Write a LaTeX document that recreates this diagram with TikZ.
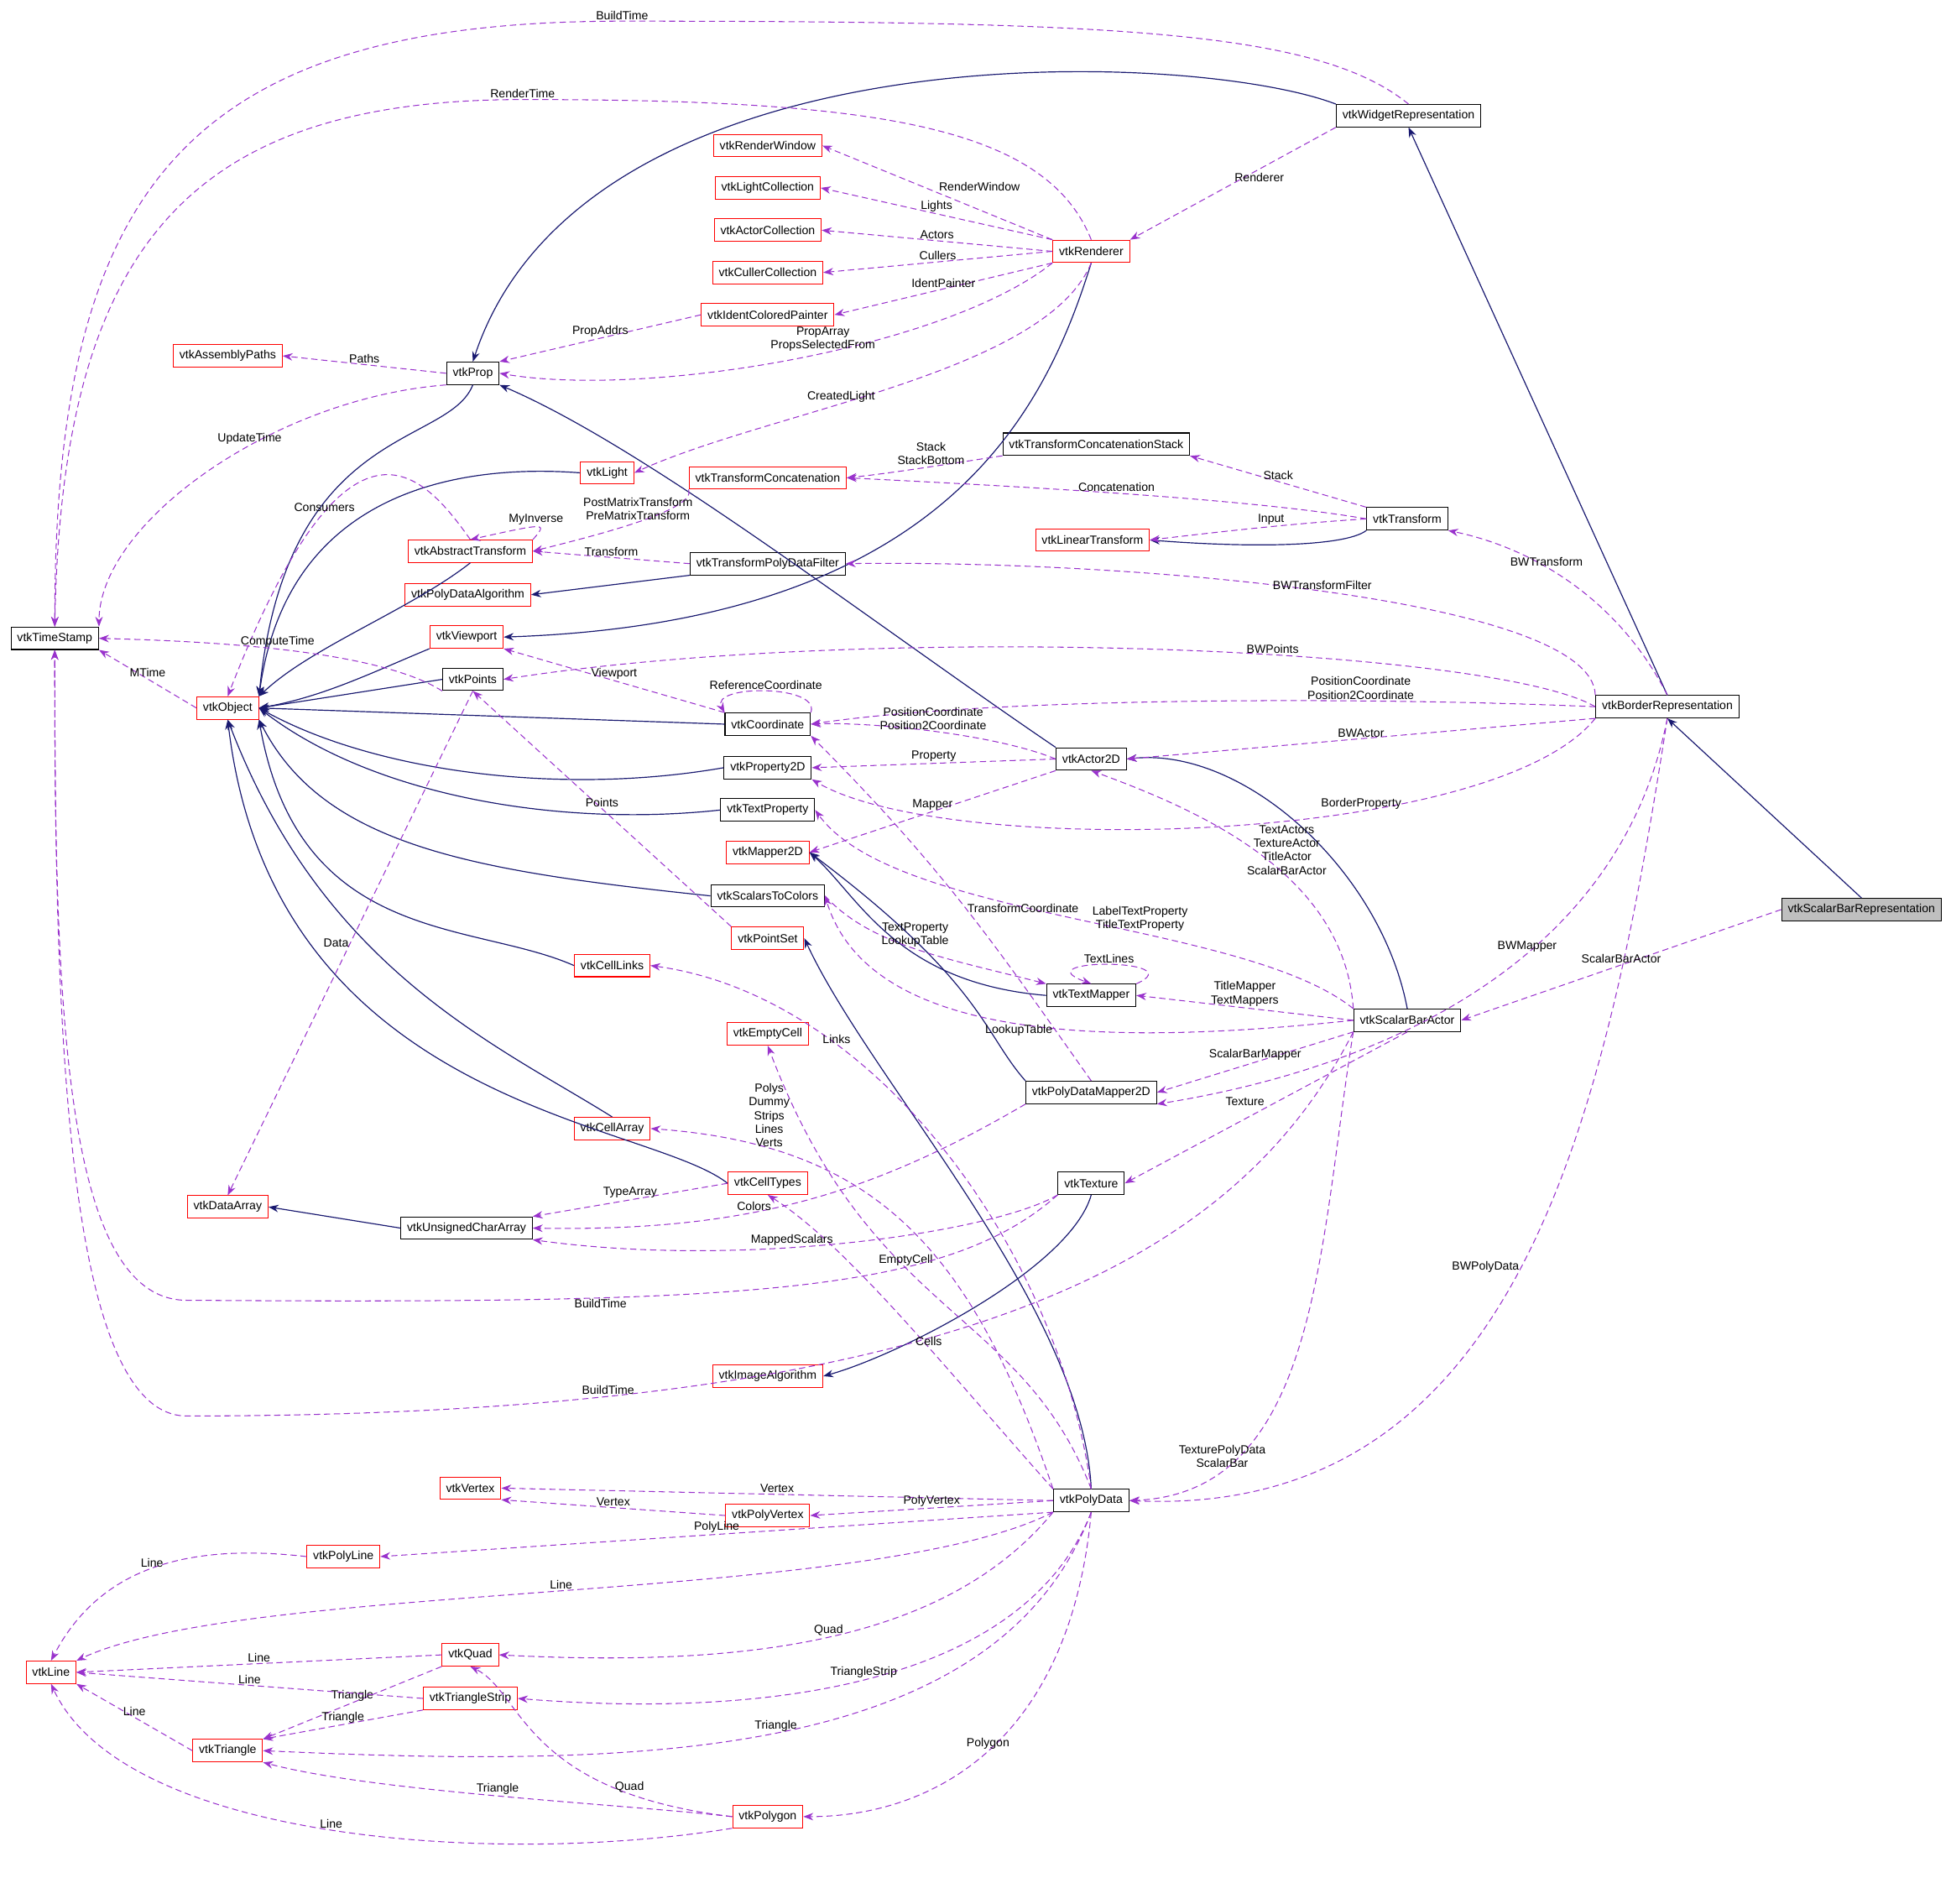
\documentclass[tikz,border=0pt]{standalone}
\usepackage{fontspec}
\setmainfont{Liberation Sans}
\usetikzlibrary{arrows.meta}
\definecolor{midnight}{RGB}{25,25,112}
\definecolor{orch}{RGB}{153,50,204}
\newcommand{\fs}{\fontsize{9.5}{11}\selectfont}
\tikzset{
 cls/.style={draw=black, line width=0.7pt, font=\fs, inner xsep=5pt, inner ysep=0pt, minimum height=18pt, fill=white},
 rcls/.style={cls, draw=red},
 inh/.style={draw=midnight, line width=0.8pt, -{Stealth[length=8pt,width=6pt]}},
 dep/.style={draw=orch, line width=0.7pt, dash pattern=on 5pt off 3pt, -{Stealth[length=8pt,width=6pt]}},
 lbl/.style={font=\fs, align=center, inner sep=1pt, text=black}
}
\begin{document}
\begin{tikzpicture}[x=1pt,y=-1pt]
\useasboundingbox (0,0) rectangle (1568,1530);
% nodes
\node[cls] (WR) at (1132,93) {vtkWidgetRepresentation};
\node[rcls] (RW) at (617,117) {vtkRenderWindow};
\node[rcls] (LC) at (617,151) {vtkLightCollection};
\node[rcls] (AC) at (617,185) {vtkActorCollection};
\node[rcls] (CC) at (617,219) {vtkCullerCollection};
\node[rcls] (Ren) at (877,202) {vtkRenderer};
\node[rcls] (ICP) at (617,253) {vtkIdentColoredPainter};
\node[rcls] (AP) at (183,286) {vtkAssemblyPaths};
\node[cls] (Prop) at (380,300) {vtkProp};
\node[cls] (TCS) at (881,357) {vtkTransformConcatenationStack};
\node[rcls] (Light) at (488,380) {vtkLight};
\node[rcls] (TC) at (617,384) {vtkTransformConcatenation};
\node[cls] (Tr) at (1131,417) {vtkTransform};
\node[rcls] (LT) at (878,434) {vtkLinearTransform};
\node[rcls] (AT) at (378,443) {vtkAbstractTransform};
\node[cls] (TPDF) at (617,453) {vtkTransformPolyDataFilter};
\node[rcls] (PDA) at (376,478) {vtkPolyDataAlgorithm};
\node[cls] (TS) at (44,513) {vtkTimeStamp};
\node[rcls] (VP) at (375,512) {vtkViewport};
\node[cls] (Pts) at (380,546) {vtkPoints};
\node[rcls] (Obj) at (183,569) {vtkObject};
\node[cls] (Coord) at (617,582) {vtkCoordinate};
\node[cls] (BR) at (1340,568) {vtkBorderRepresentation};
\node[cls] (A2D) at (877,610) {vtkActor2D};
\node[cls] (P2D) at (617,617) {vtkProperty2D};
\node[cls] (TP) at (617,651) {vtkTextProperty};
\node[rcls] (M2D) at (617,685) {vtkMapper2D};
\node[cls] (STC) at (617,720) {vtkScalarsToColors};
\node[cls, fill=black!25] (SBR) at (1496,731) {vtkScalarBarRepresentation};
\node[rcls] (PS) at (617,754) {vtkPointSet};
\node[rcls] (CL) at (492,776) {vtkCellLinks};
\node[cls] (TM) at (877,800) {vtkTextMapper};
\node[cls] (SBA) at (1131,820) {vtkScalarBarActor};
\node[rcls] (EC) at (617,831) {vtkEmptyCell};
\node[cls] (PDM) at (877,878) {vtkPolyDataMapper2D};
\node[rcls] (CA) at (492,907) {vtkCellArray};
\node[cls] (Tex) at (877,951) {vtkTexture};
\node[rcls] (CT) at (617,951) {vtkCellTypes};
\node[rcls] (DA) at (183,970) {vtkDataArray};
\node[cls] (UCA) at (375,987) {vtkUnsignedCharArray};
\node[rcls] (IA) at (617,1106) {vtkImageAlgorithm};
\node[cls] (PD) at (877,1206) {vtkPolyData};
\node[rcls] (Vx) at (378,1196) {vtkVertex};
\node[rcls] (PVx) at (617,1218) {vtkPolyVertex};
\node[rcls] (PL) at (276,1251) {vtkPolyLine};
\node[rcls] (Line) at (41,1344) {vtkLine};
\node[rcls] (Quad) at (378,1330) {vtkQuad};
\node[rcls] (TSt) at (378,1365) {vtkTriangleStrip};
\node[rcls] (Tri) at (183,1407) {vtkTriangle};
\node[rcls] (Pg) at (617,1460) {vtkPolygon};

% inheritance
\draw[inh] (WR.north west) .. controls (960,40) and (470,20) .. (Prop.north);
\draw[inh] (Ren.south) .. controls (840,330) and (760,500) .. (VP.east);
\draw[inh] (BR.north) -- (WR.south);
\draw[inh] (SBR.north) -- (BR.south);
\draw[inh] (A2D.north west) .. controls (700,500) and (520,360) .. (Prop.south east);
\draw[inh] (Tr.south west) .. controls (1080,440) and (1000,440) .. (LT.east);
\draw[inh] (TPDF.south west) -- (PDA.east);
\draw[inh] (Prop.south) .. controls (360,360) and (230,340) .. (Obj.north east);
\draw[inh] (Light.west) .. controls (360,372) and (230,400) .. (Obj.north east);
\draw[inh] (AT.south) .. controls (330,490) and (250,520) .. (Obj.north east);
\draw[inh] (VP.south west) .. controls (300,540) and (260,560) .. (Obj.east);
\draw[inh] (Pts.west) -- (Obj.east);
\draw[inh] (Coord.west) -- (Obj.east);
\draw[inh] (P2D.west) .. controls (450,640) and (300,620) .. (Obj.east);
\draw[inh] (TP.west) .. controls (450,665) and (300,640) .. (Obj.east);
\draw[inh] (STC.west) .. controls (380,700) and (260,680) .. (Obj.south east);
\draw[inh] (CL.west) .. controls (380,740) and (240,760) .. (Obj.south east);
\draw[inh] (CA.north) .. controls (400,840) and (260,780) .. (Obj.south);
\draw[inh] (CT.west) .. controls (520,900) and (220,890) .. (Obj.south);
\draw[inh] (PDM.north west) .. controls (790,830) and (790,790) .. (M2D.east);
\draw[inh] (TM.west) .. controls (720,790) and (690,720) .. (M2D.east);
\draw[inh] (SBA.north) .. controls (1110,700) and (1000,600) .. (A2D.east);
\draw[inh] (PD.north) .. controls (870,1050) and (700,870) .. (PS.east);
\draw[inh] (Tex.south) .. controls (860,1020) and (720,1090) .. (IA.east);
\draw[inh] (UCA.west) -- (DA.east);

% dependencies
\coordinate (bt1) at (500,17);
\coordinate (rt1) at (420,80);
\coordinate (bt2) at (150,1045);
\coordinate (bt3) at (150,1138);
\draw[dep] (WR.north) .. controls (1060,25) and (900,17) .. (bt1) node[lbl,above]{BuildTime} .. controls (150,17) and (44,150) .. (TS.north);
\draw[dep] (Ren.north) .. controls (840,100) and (700,80) .. (rt1) node[lbl,above]{RenderTime} .. controls (150,80) and (50,200) .. (TS.north);
\draw[dep] (WR.south west) -- node[lbl,pos=0.5,above right]{Renderer} (Ren.north east);
\draw[dep] (Ren.north west) -- node[lbl,pos=0.5,above right]{RenderWindow} (RW.east);
\draw[dep] (Ren.north west) -- node[lbl,pos=0.5,above]{Lights} (LC.east);
\draw[dep] (Ren.west) -- node[lbl,pos=0.5,above]{Actors} (AC.east);
\draw[dep] (Ren.west) -- node[lbl,pos=0.5,above]{Cullers} (CC.east);
\draw[dep] (Ren.south west) -- node[lbl,pos=0.5,above]{IdentPainter} (ICP.east);
\draw[dep] (ICP.west) -- node[lbl,pos=0.5,above]{PropAddrs} (Prop.north east);
\draw[dep] (Ren.south west) .. controls (760,280) and (520,320) .. node[lbl,pos=0.45,above]{PropArray\\PropsSelectedFrom} (Prop.east);
\draw[dep] (Prop.west) -- node[lbl,pos=0.5,above]{Paths} (AP.east);
\draw[dep] (Ren.south) .. controls (840,300) and (620,330) .. node[lbl,pos=0.6,above]{CreatedLight} (Light.east);
\draw[dep] (Prop.south west) .. controls (220,320) and (80,420) .. node[lbl,pos=0.4,above]{UpdateTime} (TS.north east);
\draw[dep] (AT.north) .. controls (340,380) and (280,310) .. node[lbl,pos=0.7,above]{Consumers} (Obj.north);
\draw[dep] (AT.north east) .. controls (440,420) and (440,420) .. node[lbl,pos=0.5,above]{MyInverse} (AT.north);
\draw[dep] (TC.south west) .. controls (560,410) and (480,430) .. node[lbl,pos=0.5,above]{PostMatrixTransform\\PreMatrixTransform} (AT.east);
\draw[dep] (TCS.south west) .. controls (780,370) and (720,380) .. node[lbl,pos=0.5,above]{Stack\\StackBottom} (TC.east);
\draw[dep] (Tr.north west) -- node[lbl,pos=0.5,above]{Stack} (TCS.south east);
\draw[dep] (Tr.west) .. controls (1000,400) and (800,390) .. node[lbl,pos=0.5,above]{Concatenation} (TC.east);
\draw[dep] (Tr.west) .. controls (1050,420) and (1000,425) .. node[lbl,pos=0.5,above]{Input} (LT.east);
\draw[dep] (TPDF.west) -- node[lbl,pos=0.5,above]{Transform} (AT.east);
\draw[dep] (BR.north) .. controls (1300,480) and (1230,440) .. node[lbl,pos=0.6,above]{BWTransform} (Tr.south east);
\draw[dep] (BR.north west) .. controls (1280,480) and (900,450) .. node[lbl,pos=0.5,above]{BWTransformFilter} (TPDF.east);
\draw[dep] (BR.west) .. controls (1200,520) and (700,500) .. node[lbl,pos=0.4,above]{BWPoints} (Pts.east);
\draw[dep] (BR.west) .. controls (1100,560) and (800,560) .. node[lbl,pos=0.3,above]{PositionCoordinate\\Position2Coordinate} (Coord.east);
\draw[dep] (BR.south west) -- node[lbl,pos=0.5,above]{BWActor} (A2D.east);
\draw[dep] (BR.south west) .. controls (1200,680) and (760,690) .. node[lbl,pos=0.35,above]{BorderProperty} (P2D.south east);
\draw[dep] (BR.south) .. controls (1300,780) and (1100,860) .. node[lbl,pos=0.4,above]{BWMapper} (PDM.south east);
\draw[dep] (BR.south) .. controls (1290,900) and (1220,1220) .. node[lbl,pos=0.5,left]{BWPolyData} (PD.east);
\draw[dep] (Pts.south west) .. controls (300,520) and (150,515) .. node[lbl,pos=0.5,above]{ComputeTime} (TS.east);
\draw[dep] (Obj.west) -- node[lbl,pos=0.5,above]{MTime} (TS.south east);
\draw[dep] (Coord.north west) -- node[lbl,pos=0.5,above]{Viewport} (VP.south east);
\draw[dep] (Coord.north east) .. controls (660,550) and (570,550) .. node[lbl,pos=0.5,above]{ReferenceCoordinate} (Coord.north west);
\draw[dep] (A2D.west) .. controls (800,590) and (700,580) .. node[lbl,pos=0.5,above]{PositionCoordinate\\Position2Coordinate} (Coord.east);
\draw[dep] (A2D.west) -- node[lbl,pos=0.5,above]{Property} (P2D.east);
\draw[dep] (A2D.south west) -- node[lbl,pos=0.5,above]{Mapper} (M2D.east);
\draw[dep] (Pts.south) -- node[lbl,pos=0.5,left]{Data} (DA.north);
\draw[dep] (PS.north west) -- node[lbl,pos=0.5,above]{Points} (Pts.south);
\draw[dep] (SBA.north west) .. controls (1080,700) and (960,650) .. node[lbl,pos=0.4,above]{TextActors\\TextureActor\\TitleActor\\ScalarBarActor} (A2D.south);
\draw[dep] (SBA.north west) .. controls (1000,740) and (720,740) .. node[lbl,pos=0.4,above]{LabelTextProperty\\TitleTextProperty} (TP.east);
\draw[dep] (PDM.north) .. controls (800,760) and (760,700) .. node[lbl,pos=0.5,right]{TransformCoordinate} (Coord.south east);
\draw[dep] (STC.east) .. controls (700,760) and (760,770) .. node[lbl,pos=0.5,above]{TextProperty\\LookupTable} (TM.north west);
\draw[dep] (TM.north east) .. controls (960,770) and (820,770) .. node[lbl,pos=0.5,above]{TextLines} (TM.north);
\draw[dep] (SBA.west) -- node[lbl,pos=0.5,above]{TitleMapper\\TextMappers} (TM.east);
\draw[dep] (SBA.west) .. controls (900,840) and (700,840) .. node[lbl,pos=0.5,below]{LookupTable} (STC.east);
\draw[dep] (SBA.south west) -- node[lbl,pos=0.5,above]{ScalarBarMapper} (PDM.east);
\draw[dep] (SBA.south) -- node[lbl,pos=0.5,above left]{Texture} (Tex.east);
\draw[dep] (SBA.south west) .. controls (1060,1000) and (1060,1200) .. node[lbl,pos=0.8,above]{TexturePolyData\\ScalarBar} (PD.east);
\draw[dep] (SBA.south west) .. controls (1000,1000) and (800,1138) .. node[lbl,pos=0.8,above]{BuildTime} (bt3) .. controls (50,1138) and (44,800) .. (TS.south);
\draw[dep] (SBR.west) -- node[lbl,pos=0.5,above]{ScalarBarActor} (SBA.east);
\draw[dep] (PD.north) .. controls (850,1000) and (700,800) .. node[lbl,pos=0.7,above]{Links} (CL.east);
\draw[dep] (PD.north) .. controls (820,1050) and (700,1060) .. node[lbl,pos=0.6,above]{EmptyCell} (EC.south);
\draw[dep] (PD.north west) .. controls (780,1000) and (700,920) .. node[lbl,pos=0.8,above]{Polys\\Dummy\\Strips\\Lines\\Verts} (CA.east);
\draw[dep] (PD.north west) .. controls (760,1100) and (680,1000) .. node[lbl,pos=0.4,above]{Cells} (CT.south);
\draw[dep] (CT.west) -- node[lbl,pos=0.5,above]{TypeArray} (UCA.north east);
\draw[dep] (PDM.south west) .. controls (700,960) and (600,990) .. node[lbl,pos=0.6,above]{Colors} (UCA.east);
\draw[dep] (Tex.south west) .. controls (800,990) and (600,1020) .. node[lbl,pos=0.6,above]{MappedScalars} (UCA.south east);
\draw[dep] (Tex.south west) .. controls (760,1040) and (600,1048) .. node[lbl,pos=0.7,below]{BuildTime} (bt2) .. controls (50,1045) and (44,800) .. (TS.south);
\draw[dep] (PD.west) -- node[lbl,pos=0.5,above]{Vertex} (Vx.east);
\draw[dep] (PVx.west) -- node[lbl,pos=0.5,above]{Vertex} (Vx.south east);
\draw[dep] (PD.west) -- node[lbl,pos=0.5,above]{PolyVertex} (PVx.east);
\draw[dep] (PD.south west) -- node[lbl,pos=0.5,above]{PolyLine} (PL.east);
\draw[dep] (PL.west) .. controls (150,1240) and (80,1260) .. node[lbl,pos=0.5,above]{Line} (Line.north);
\draw[dep] (PD.south west) .. controls (700,1290) and (200,1270) .. node[lbl,pos=0.5,above]{Line} (Line.north east);
\draw[dep] (Quad.west) -- node[lbl,pos=0.5,above]{Line} (Line.east);
\draw[dep] (Quad.south west) -- node[lbl,pos=0.5,above]{Triangle} (Tri.north east);
\draw[dep] (TSt.west) -- node[lbl,pos=0.5,above]{Line} (Line.east);
\draw[dep] (TSt.south west) -- node[lbl,pos=0.5,above]{Triangle} (Tri.north east);
\draw[dep] (Tri.west) -- node[lbl,pos=0.5,above]{Line} (Line.south east);
\draw[dep] (PD.south west) .. controls (760,1320) and (600,1340) .. node[lbl,pos=0.5,above]{Quad} (Quad.east);
\draw[dep] (PD.south) .. controls (820,1360) and (600,1380) .. node[lbl,pos=0.5,above]{TriangleStrip} (TSt.east);
\draw[dep] (PD.south) .. controls (800,1420) and (500,1420) .. node[lbl,pos=0.5,above]{Triangle} (Tri.east);
\draw[dep] (PD.south) .. controls (860,1400) and (750,1460) .. node[lbl,pos=0.5,above]{Polygon} (Pg.east);
\draw[dep] (Pg.west) .. controls (500,1450) and (300,1440) .. node[lbl,pos=0.5,above]{Triangle} (Tri.south east);
\draw[dep] (Pg.west) .. controls (420,1440) and (420,1360) .. node[lbl,pos=0.2,above]{Quad} (Quad.south);
\draw[dep] (Pg.south west) .. controls (400,1500) and (100,1480) .. node[lbl,pos=0.5,above]{Line} (Line.south);
\end{tikzpicture}
\end{document}
